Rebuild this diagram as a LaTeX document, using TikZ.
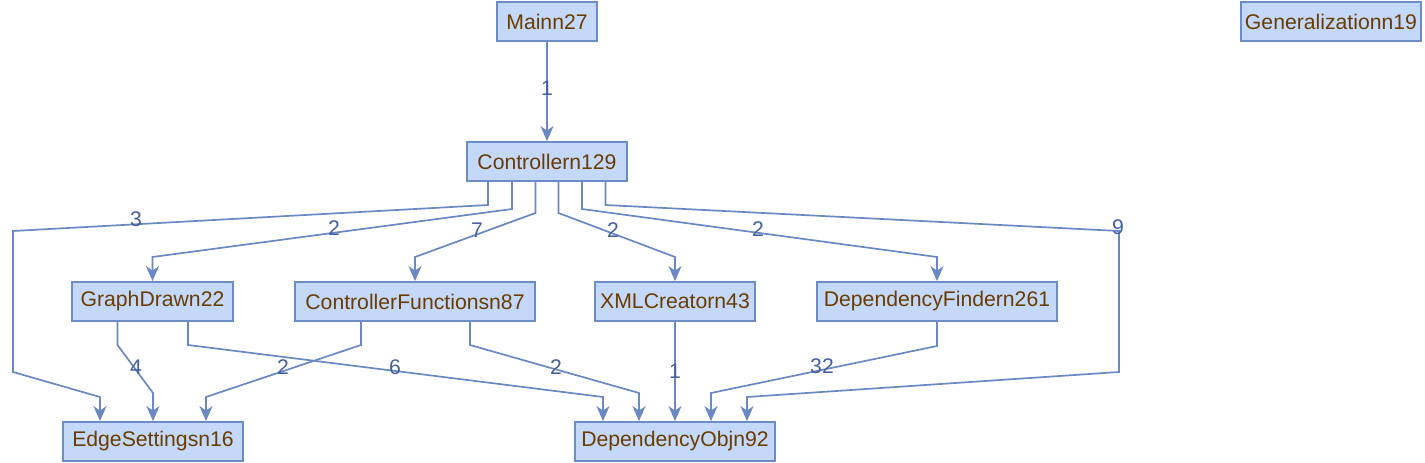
\documentclass[tikz,border=0pt]{standalone}
\usepackage{fontspec}
\setmainfont{Liberation Sans}
\usetikzlibrary{arrows.meta}
\definecolor{boxfill}{HTML}{C4D8FA}
\definecolor{boxdraw}{HTML}{6D8CC6}
\definecolor{boxtext}{HTML}{6B3C00}
\definecolor{edgecol}{HTML}{6A88C4}
\definecolor{labcol}{HTML}{44609E}
\tikzset{
  box/.style={draw=boxdraw, fill=boxfill, line width=1.8pt, minimum height=39pt,
    inner sep=0pt, text=boxtext, font=\fontsize{21.2}{24}\selectfont},
  conn/.style={draw=edgecol, line width=1.7pt,
    -{Stealth[length=15pt,width=13pt,inset=4.5pt]}},
  lab/.style={text=labcol, inner sep=0pt, font=\fontsize{21.2}{24}\selectfont}
}
\begin{document}
\begin{tikzpicture}[x=1pt,y=-1pt]
\useasboundingbox (0,0) rectangle (1425,463);
% nodes
\node[box, minimum width=100pt] (main) at (547,21.5) {Mainn27};
\node[box, minimum width=180pt] (gen) at (1331,21.5) {Generalizationn19};
\node[box, minimum width=160pt] (ctrl) at (547,161.5) {Controllern129};
\node[box, minimum width=161pt] (gd) at (152.5,301.5) {GraphDrawn22};
\node[box, minimum width=240pt] (cf) at (415,301.5) {ControllerFunctionsn87};
\node[box, minimum width=160pt] (xml) at (675,301.5) {XMLCreatorn43};
\node[box, minimum width=240pt] (df) at (937,301.5) {DependencyFindern261};
\node[box, minimum width=180pt] (es) at (153,441.5) {EdgeSettingsn16};
\node[box, minimum width=200pt] (do) at (675,441.5) {DependencyObjn92};
% connectors
\draw[conn] (main) -- node[lab, pos=0.47] {1} (ctrl);
\draw[conn] ([xshift=-59pt]ctrl.south) -- (488,205) -- (13,231) -- (13,372) -- (100,397)
  -- ([xshift=-53pt]es.north) node[lab] at (136,219) {3};
\draw[conn] ([xshift=-35pt]ctrl.south) -- (512,209) -- (152.5,257) -- (gd.north)
  node[lab] at (334,228) {2};
\draw[conn] ([xshift=-11.5pt]ctrl.south) -- (535.5,213) -- (415,257) -- (cf.north)
  node[lab] at (477,230) {7};
\draw[conn] ([xshift=11.5pt]ctrl.south) -- (558.5,213) -- (675,257) -- (xml.north)
  node[lab] at (613,230) {2};
\draw[conn] ([xshift=35pt]ctrl.south) -- (582,209) -- (937,257) -- (df.north)
  node[lab] at (758,229) {2};
\draw[conn] ([xshift=58.5pt]ctrl.south) -- (605.5,205) -- (1119,231) -- (1119,372) -- (747,397)
  -- ([xshift=72pt]do.north) node[lab] at (1118,227) {9};
\draw[conn] ([xshift=-35pt]gd.south) -- (117.5,345) -- (153,393) -- (es.north)
  node[lab] at (136,367) {4};
\draw[conn] ([xshift=35.5pt]gd.south) -- (188,345) -- (603,397) -- ([xshift=-72pt]do.north)
  node[lab] at (395,367) {6};
\draw[conn] ([xshift=-54pt]cf.south) -- (361,345) -- (206,397) -- ([xshift=53pt]es.north)
  node[lab] at (283,367) {2};
\draw[conn] ([xshift=55pt]cf.south) -- (470,345) -- (639,393) -- ([xshift=-36pt]do.north)
  node[lab] at (556,367) {2};
\draw[conn] (xml) -- node[lab, pos=0.5] {1} (do);
\draw[conn] (df.south) -- (937,346) -- (711,393) -- ([xshift=36pt]do.north)
  node[lab] at (822,366) {32};
\end{tikzpicture}
\end{document}
